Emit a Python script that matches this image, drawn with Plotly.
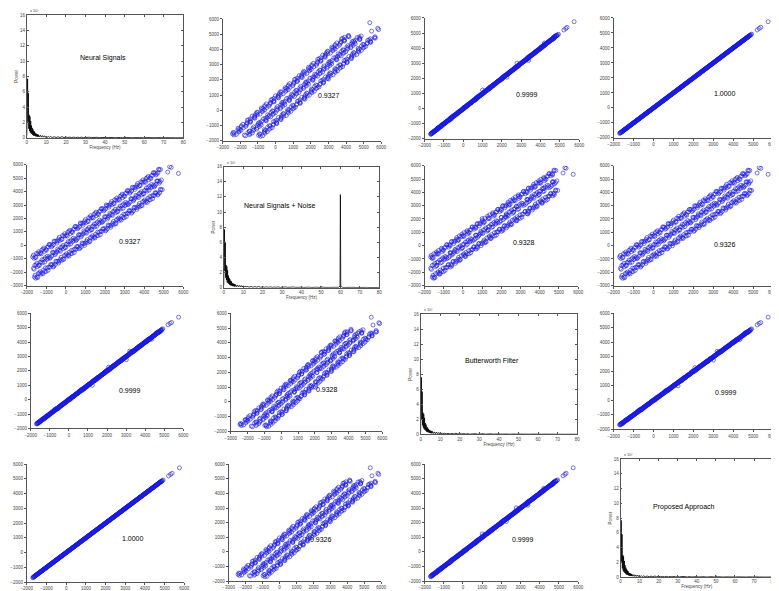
import plotly.graph_objects as go

# ---- spectra (power in units of 1e7) ----
freq = [0, 0.2, 0.4, 0.6, 0.8, 1.0, 1.2, 1.4, 1.6, 1.8, 2.0, 2.2, 2.4, 2.6, 2.8, 3.0,
        3.2, 3.4, 3.6, 3.8, 4.0, 4.2, 4.4, 4.6, 4.8, 5.0, 5.2, 5.4, 5.6, 5.8, 6.0,
        6.5, 7, 7.5, 8, 8.5, 9, 9.5, 10, 10.5, 11, 11.5, 12,
        13, 14, 15, 16, 17, 18, 19, 20, 21, 22, 23, 24, 25, 26, 27, 28, 29, 30, 31,
        32, 33, 34, 35, 36, 37, 38, 39, 40, 41, 42, 43, 44, 45, 46, 47, 48, 49,
        49.8, 50, 50.2,
        51, 52, 53, 54, 55, 56, 57, 58, 59,
        59.8, 60, 60.2,
        61, 62, 63, 64, 65, 66, 67, 68, 69, 70, 71, 72, 73, 74, 75, 76, 77, 78, 79, 80]

power_clean = [0.3, 4.5, 7.7, 2.1, 5.8, 1.2, 3.0, 0.9, 2.8, 0.7, 2.2, 0.6, 1.6, 0.5, 1.3, 0.4,
               1.1, 0.3, 0.9, 0.3, 0.8, 0.25, 0.6, 0.2, 0.55, 0.2, 0.5, 0.15, 0.45, 0.15, 0.4,
               0.12, 0.35, 0.1, 0.3, 0.1, 0.28, 0.08, 0.25, 0.08, 0.2, 0.07, 0.18,
               0.06, 0.15, 0.05, 0.14, 0.05, 0.16, 0.04, 0.12, 0.05, 0.1, 0.04, 0.11, 0.03, 0.09,
               0.04, 0.1, 0.03, 0.08, 0.03, 0.09, 0.03, 0.07, 0.02, 0.08, 0.03, 0.07, 0.02, 0.06,
               0.03, 0.07, 0.02, 0.06, 0.02, 0.05, 0.03, 0.06, 0.02,
               0.04, 0.22, 0.04,
               0.05, 0.02, 0.05, 0.02, 0.04, 0.02, 0.05, 0.02, 0.04,
               0.02, 0.05, 0.02,
               0.04, 0.02, 0.04, 0.02, 0.03, 0.02, 0.04, 0.01, 0.03, 0.02, 0.03, 0.01, 0.03, 0.02,
               0.03, 0.01, 0.02, 0.02, 0.03, 0.01]

power_noise = [0.3, 4.6, 7.7, 2.2, 5.9, 1.3, 3.0, 1.0, 2.8, 0.7, 2.3, 0.6, 1.6, 0.5, 1.3, 0.4,
               1.1, 0.3, 0.9, 0.3, 0.8, 0.25, 0.6, 0.2, 0.55, 0.2, 0.5, 0.15, 0.45, 0.15, 0.4,
               0.12, 0.35, 0.1, 0.3, 0.1, 0.28, 0.08, 0.25, 0.08, 0.2, 0.07, 0.18,
               0.06, 0.15, 0.05, 0.14, 0.05, 0.16, 0.04, 0.12, 0.05, 0.1, 0.04, 0.11, 0.03, 0.09,
               0.04, 0.1, 0.03, 0.08, 0.03, 0.09, 0.03, 0.07, 0.02, 0.08, 0.03, 0.07, 0.02, 0.06,
               0.03, 0.07, 0.02, 0.06, 0.02, 0.05, 0.03, 0.06, 0.02,
               0.04, 0.22, 0.04,
               0.05, 0.02, 0.05, 0.02, 0.04, 0.02, 0.05, 0.02, 0.04,
               0.2, 12.3, 0.2,
               0.04, 0.02, 0.04, 0.02, 0.03, 0.02, 0.04, 0.01, 0.03, 0.02, 0.03, 0.01, 0.03, 0.02,
               0.03, 0.01, 0.02, 0.02, 0.03, 0.01]

power_butter = [0.3, 4.4, 7.6, 2.0, 5.7, 1.2, 2.9, 0.9, 2.7, 0.7, 2.2, 0.6, 1.5, 0.5, 1.3, 0.4,
                1.0, 0.3, 0.9, 0.3, 0.7, 0.25, 0.6, 0.2, 0.5, 0.2, 0.5, 0.15, 0.4, 0.15, 0.4,
                0.12, 0.33, 0.1, 0.3, 0.1, 0.26, 0.08, 0.24, 0.08, 0.2, 0.07, 0.17,
                0.06, 0.14, 0.05, 0.13, 0.05, 0.15, 0.04, 0.11, 0.05, 0.1, 0.04, 0.1, 0.03, 0.08,
                0.04, 0.09, 0.03, 0.08, 0.03, 0.08, 0.03, 0.07, 0.02, 0.07, 0.03, 0.06, 0.02, 0.06,
                0.03, 0.06, 0.02, 0.05, 0.02, 0.05, 0.03, 0.05, 0.02,
                0.03, 0.18, 0.03,
                0.04, 0.02, 0.04, 0.02, 0.03, 0.02, 0.04, 0.02, 0.03,
                0.02, 0.04, 0.02,
                0.03, 0.02, 0.03, 0.02, 0.03, 0.01, 0.03, 0.01, 0.02, 0.02, 0.03, 0.01, 0.02, 0.01,
                0.02, 0.01, 0.02, 0.01, 0.02, 0.01]

power_proposed = [0.3, 4.5, 7.7, 2.1, 5.8, 1.2, 3.0, 0.9, 2.8, 0.7, 2.2, 0.6, 1.6, 0.5, 1.3, 0.4,
                  1.1, 0.3, 0.9, 0.3, 0.8, 0.25, 0.6, 0.2, 0.55, 0.2, 0.5, 0.15, 0.45, 0.15, 0.4,
                  0.12, 0.35, 0.1, 0.3, 0.1, 0.28, 0.08, 0.25, 0.08, 0.2, 0.07, 0.18,
                  0.06, 0.15, 0.05, 0.14, 0.05, 0.16, 0.04, 0.12, 0.05, 0.1, 0.04, 0.11, 0.03, 0.09,
                  0.04, 0.1, 0.03, 0.08, 0.03, 0.09, 0.03, 0.07, 0.02, 0.08, 0.03, 0.07, 0.02, 0.06,
                  0.03, 0.07, 0.02, 0.06, 0.02, 0.05, 0.03, 0.06, 0.02,
                  0.04, 0.21, 0.04,
                  0.05, 0.02, 0.05, 0.02, 0.04, 0.02, 0.05, 0.02, 0.04,
                  0.02, 0.06, 0.02,
                  0.04, 0.02, 0.04, 0.02, 0.03, 0.02, 0.04, 0.01, 0.03, 0.02, 0.03, 0.01, 0.03, 0.02,
                  0.03, 0.01, 0.02, 0.02, 0.03, 0.01]

# ---- time-domain samples of the four signals ----
sig_clean = [-1700, -1570, -1430, -1300, -1170, -1030, -900, -770, -640, -500, -370, -240, -100, 30, 160, 300, 430, 560, 700, 830,
             960, 1100, 1230, 1360, 1500, 1630, 1760, 1900, 2030, 2160, 2300, 2430, 2560, 2700, 2830, 2960, 3100, 3230, 3360, 3500,
             3630, 3760, 3900, 4030, 4160, 4300, 4430, 4560, 4700, 4830,
             -1660, -1520, -1390, -1260, -1120, -990, -860, -720, -590, -460, -320, -190, -60, 80, 210, 340, 480, 610, 740, 880,
             1010, 1140, 1280, 1410, 1540, 1680, 1810, 1940, 2080, 2210, 2340, 2480, 2610, 2740, 2880, 3010, 3140, 3280, 3410, 3540,
             3680, 3810, 3940, 4080, 4210, 4340, 4480, 4610, 4740, 4880,
             -1610, -1480, -1350, -1210, -1080, -950, -810, -680, -550, -410, -280, -150, -10, 120, 250, 390, 520, 650, 790, 920,
             1050, 1190, 1320, 1450, 1590, 1720, 1850, 1990, 2120, 2250, 2390, 2520, 2650, 2790, 2920, 3050, 3190, 3320, 3450, 3590,
             3720, 3850, 3990, 4120, 4250, 4390, 4520, 4650, 4790, 4920,
             5200, 5300, 5380, 5750,
             -1635, -1500, -1365, -1235, -1100, -965, -835, -705, -570, -435, -305, -170, -35, 95, 230, 365, 495, 630, 765, 895,
             1030, 1165, 1295, 1430, 1565, 1695, 1830, 1965, 2095, 2230, 2365, 2495, 2630, 2765, 2895, 3030, 3165, 3295, 3430, 3565,
             3695, 3830, 3965, 4095, 4230, 4365, 4495, 4630, 4765,
             -1590, -1455, -1325, -1190, -1055, -925, -790, -655, -525, -390, -255, -125, 10, 145, 275, 410, 545, 675, 810, 945,
             1075, 1210, 1345, 1475, 1610, 1745, 1875, 2010, 2145, 2275, 2410, 2545, 2675, 2810, 2945, 3075, 3210, 3345, 3475, 3610,
             3745, 3875, 4010, 4145, 4275, 4410, 4545, 4675, 4810,
             -1545, -1415, -1280, -1145, -1015, -880, -745, -615, -480, -345, -215, -80, 55, 185, 320, 455, 585, 720, 855, 985,
             1120, 1255, 1385, 1520, 1655, 1785, 1920, 2055, 2185, 2320, 2455, 2585, 2720, 2855, 2985, 3120, 3255, 3385, 3520, 3655,
             3785, 3920, 4055, 4185, 4320, 4455, 4585, 4720, 4855,
             -1665, -1535, -1395, -1265, -1135, -995, -865, -735, -605, -465, -335, -205, -65, 65, 195, 335, 465, 595, 735, 865,
             995, 1135, 1265, 1395, 1535, 1665, 1795, 1935, 2065, 2195, 2335, 2465, 2595, 2735, 2865, 2995, 3135, 3265, 3395, 3535,
             3665, 3795, 3935, 4065, 4195, 4335, 4465, 4595, 4735,
             -1625, -1485, -1355, -1225, -1085, -955, -825, -685, -555, -425, -285, -155, -25, 115, 245, 375, 515, 645, 775, 915,
             1045, 1175, 1315, 1445, 1575, 1715, 1845, 1975, 2115, 2245, 2375, 2515, 2645, 2775, 2915, 3045, 3175, 3315, 3445, 3575,
             3715, 3845, 3975, 4115, 4245, 4375, 4515, 4645, 4775,
             -1575, -1445, -1315, -1175, -1045, -915, -775, -645, -515, -375, -245, -115, 25, 155, 285, 425, 555, 685, 825, 955,
             1085, 1225, 1355, 1485, 1625, 1755, 1885, 2025, 2155, 2285, 2425, 2555, 2685, 2825, 2955, 3085, 3225, 3355, 3485, 3625,
             3755, 3885, 4025, 4155, 4285, 4425, 4555, 4685, 4825]

sig_noise = [-860, -870, -630, -560, -300, -310, -120, 60, 50, 310, 470, 460, 700, 770, 1030, 1020, 1210, 1390, 1390, 1640,
             1800, 1800, 2030, 2100, 2370, 2350, 2540, 2730, 2720, 2970, 3140, 3130, 3360, 3440, 3700, 3680, 3880, 4060, 4050, 4310,
             4470, 4460, 4700, 4770, 5030, 5020, 5210, 5390, 5390, 5640,
             -1700, -1450, -1480, -1230, -1040, -1050, -850, -790, -540, -480, -360, -120, -150, 110, 290, 280, 490, 540, 790, 860,
             970, 1210, 1190, 1440, 1620, 1620, 1820, 1870, 2130, 2190, 2300, 2550, 2520, 2770, 2960, 2950, 3150, 3210, 3460, 3520,
             3640, 3880, 3850, 4110, 4290, 4280, 4490, 4540, 4790, 4860,
             -2360, -2350, -2060, -2040, -1940, -1670, -1620, -1420, -1430, -1190, -1030, -1020, -720, -710, -610, -330, -290, -90, -90, 140,
             300, 320, 610, 620, 730, 1000, 1040, 1250, 1240, 1470, 1640, 1650, 1940, 1960, 2060, 2330, 2380, 2580, 2570, 2810,
             2970, 2980, 3280, 3290, 3390, 3670, 3710, 3910, 3910, 4140,
             5450, 5850, 5800, 5350,
             -965, -600, -635, -355, -450, -145, 55, -25, 280, 325, 365, 730, 695, 975, 880, 1185, 1385, 1310, 1615, 1655,
             1700, 2065, 2025, 2310, 2215, 2515, 2720, 2645, 2945, 2990, 3035, 3395, 3360, 3645, 3545, 3850, 4055, 3975, 4280, 4325,
             4365, 4730, 4695, 4975, 4880, 5185, 5385, 5310, 5615,
             -1480, -1575, -1265, -1290, -925, -965, -900, -555, -595, -370, -145, -245, 70, 45, 405, 370, 435, 775, 740, 965,
             1185, 1090, 1405, 1375, 1740, 1705, 1765, 2110, 2075, 2295, 2520, 2425, 2735, 2710, 3075, 3035, 3100, 3445, 3405, 3630,
             3855, 3755, 4070, 4045, 4405, 4370, 4435, 4775, 4740,
             -2445, -2095, -2140, -1835, -1945, -1630, -1445, -1525, -1210, -1175, -1115, -760, -805, -505, -610, -295, -115, -190, 125, 155,
             220, 575, 525, 830, 725, 1035, 1220, 1145, 1455, 1490, 1555, 1905, 1860, 2165, 2055, 2370, 2555, 2475, 2790, 2825,
             2885, 3240, 3195, 3495, 3390, 3705, 3885, 3810, 4125,
             -735, -915, -475, -635, -195, -355, 65, -115, 315, 165, 605, 435, 865, 685, 1115, 965, 1405, 1235, 1665, 1485,
             1915, 1765, 2205, 2035, 2465, 2285, 2715, 2565, 3005, 2835, 3265, 3085, 3515, 3365, 3805, 3635, 4065, 3885, 4315, 4165,
             4605, 4435, 4865, 4685, 5115, 4965, 5405, 5235, 5665,
             -1775, -1325, -1495, -1075, -1245, -815, -975, -525, -695, -275, -445, -15, -175, 275, 105, 525, 355, 785, 625, 1075,
             905, 1325, 1155, 1585, 1425, 1875, 1705, 2125, 1955, 2385, 2225, 2675, 2505, 2925, 2755, 3185, 3025, 3475, 3305, 3725,
             3555, 3985, 3825, 4275, 4105, 4525, 4355, 4785, 4625,
             -2225, -2405, -1975, -2125, -1685, -1855, -1425, -1605, -1175, -1325, -885, -1055, -625, -805, -375, -525, -85, -255, 175, -5,
             425, 275, 715, 545, 975, 795, 1225, 1075, 1515, 1345, 1775, 1595, 2025, 1875, 2315, 2145, 2575, 2395, 2825, 2675,
             3115, 2945, 3375, 3195, 3625, 3475, 3915, 3745, 4175]

sig_butter = [-1680, -1600, -1420, -1310, -1130, -1050, -900, -740, -680, -490, -350, -270, -90, 20, 200, 280, 430, 590, 660, 840,
              980, 1070, 1000, 1350, 1540, 1610, 1760, 1930, 1990, 2170, 2320, 2400, 2570, 2690, 2870, 2940, 3100, 3260, 3320, 3510,
              3650, 3730, 3910, 4020, 4200, 4280, 4430, 4590, 4660, 4840,
              -1680, -1510, -1360, -1290, -1120, -970, -870, -680, -610, -450, -340, -180, -30, 50, 210, 360, 470, 650, 720, 890,
              990, 1150, 1310, 1380, 1540, 1700, 1800, 1980, 2260, 2220, 2320, 2490, 2640, 2710, 2880, 2780, 3130, 3320, 3390, 3550,
              3660, 3820, 3970, 4050, 4210, 4200, 4470, 4650, 4720, 4890,
              -1600, -1500, -1320, -1210, -1110, -930, -820, -640, -590, -400, -270, -170, 20, 120, 220, 410, 510, 690, 750, 930,
              1060, 1170, 1350, 1450, 1560, 1740, 1840, 2030, 2080, 2260, 2400, 2500, 2680, 2790, 2890, 3070, 3380, 3360, 3410, 3600,
              3730, 3830, 4020, 4120, 4220, 4410, 4510, 4690, 4750, 4930,
              5210, 5310, 5370, 5740,
              -1605, -1520, -1355, -1275, -1080, -965, -845, -665, -600, -425, -275, -190, -25, 55, 250, 365, 485, 670, 735, 905,
              1060, 1145, 1305, 1390, 1585, 1695, 1820, 2005, 2065, 2240, 2395, 2475, 2640, 2725, 2915, 3030, 3155, 3335, 3400, 3575,
              3725, 3810, 3975, 4055, 4250, 4365, 4485, 4670, 4735,
              -1600, -1425, -1355, -1170, -1055, -945, -750, -665, -515, -420, -265, -95, -20, 165, 275, 390, 585, 665, 820, 915,
              1065, 1240, 1315, 1495, 1610, 1725, 1915, 2000, 2155, 2245, 2400, 2575, 2645, 2830, 2945, 3055, 3250, 3335, 3485, 3580,
              3735, 3905, 3980, 4165, 4275, 4390, 4585, 4665, 4820,
              -1525, -1425, -1240, -1175, -1015, -870, -765, -585, -520, -325, -195, -90, 95, 155, 320, 465, 565, 750, 815, 1005,
              1140, 1245, 1425, 1490, 1655, 1795, 1900, 2085, 2145, 2340, 2475, 2575, 2760, 2825, 2985, 3130, 3235, 3415, 3480, 3675,
              3805, 3910, 4095, 4155, 4320, 4465, 4565, 4750, 4815,
              -1650, -1550, -1380, -1280, -1120, -1010, -850, -750, -590, -480, -320, -220, -50, 50, 210, 320, 480, 580, 750, 850,
              1010, 1120, 1280, 1380, 1550, 1650, 1810, 1920, 2080, 2180, 2350, 2450, 2610, 2720, 2880, 2980, 3150, 3250, 3410, 3520,
              3680, 3780, 3950, 4050, 4210, 4320, 4480, 4580, 4750,
              -1640, -1470, -1370, -1210, -1100, -940, -840, -670, -570, -410, -300, -140, -40, 130, 230, 390, 500, 660, 760, 930,
              1030, 1190, 1300, 1460, 1560, 1730, 1830, 1990, 2100, 2260, 2360, 2530, 2630, 2790, 2900, 3060, 3160, 3330, 3430, 3590,
              3700, 3860, 3960, 4130, 4230, 4390, 4500, 4660, 4760,
              -1560, -1460, -1300, -1190, -1030, -930, -760, -660, -500, -390, -230, -130, 40, 140, 300, 410, 570, 670, 840, 940,
              1100, 1210, 1370, 1470, 1640, 1740, 1900, 2010, 2170, 2270, 2440, 2540, 2700, 2810, 2970, 3070, 3240, 3340, 3500, 3610,
              3770, 3870, 4040, 4140, 4300, 4410, 4570, 4670, 4840]

sig_proposed = [-1700, -1560, -1430, -1300, -1170, -1040, -900, -770, -640, -500, -370, -240, -100, 30, 160, 300, 430, 560, 700, 830,
                960, 1100, 1230, 1370, 1500, 1630, 1760, 1900, 2030, 2160, 2300, 2430, 2560, 2700, 2830, 2960, 3100, 3230, 3360, 3500,
                3620, 3760, 3900, 4030, 4160, 4300, 4430, 4560, 4700, 4830,
                -1660, -1520, -1390, -1260, -1120, -990, -860, -720, -590, -460, -320, -190, -60, 80, 210, 340, 480, 610, 740, 880,
                1010, 1140, 1280, 1410, 1540, 1680, 1810, 1950, 2080, 2210, 2340, 2480, 2610, 2740, 2880, 3010, 3140, 3280, 3410, 3540,
                3680, 3810, 3940, 4080, 4210, 4340, 4480, 4610, 4740, 4880,
                -1610, -1480, -1350, -1210, -1080, -950, -810, -680, -550, -410, -280, -150, -10, 120, 250, 390, 520, 650, 790, 920,
                1050, 1190, 1320, 1450, 1590, 1720, 1850, 1990, 2120, 2250, 2390, 2520, 2650, 2790, 2920, 3050, 3190, 3320, 3450, 3590,
                3720, 3850, 3990, 4120, 4250, 4390, 4520, 4650, 4790, 4920,
                5200, 5300, 5380, 5750,
                -1635, -1500, -1365, -1235, -1100, -965, -835, -705, -570, -435, -305, -170, -35, 95, 230, 365, 495, 630, 765, 895,
                1030, 1165, 1295, 1430, 1565, 1695, 1830, 1965, 2095, 2230, 2365, 2495, 2630, 2765, 2895, 3030, 3165, 3295, 3430, 3565,
                3695, 3830, 3965, 4095, 4230, 4365, 4495, 4630, 4765,
                -1590, -1455, -1325, -1190, -1055, -925, -790, -655, -525, -390, -255, -125, 10, 145, 275, 410, 545, 675, 810, 945,
                1075, 1210, 1345, 1475, 1610, 1745, 1875, 2010, 2145, 2275, 2410, 2545, 2675, 2810, 2945, 3075, 3210, 3345, 3475, 3610,
                3745, 3875, 4010, 4145, 4275, 4410, 4545, 4675, 4810,
                -1545, -1415, -1280, -1145, -1015, -880, -745, -615, -480, -345, -215, -80, 55, 185, 320, 455, 585, 720, 855, 985,
                1120, 1255, 1385, 1520, 1655, 1785, 1920, 2055, 2185, 2320, 2455, 2585, 2720, 2855, 2985, 3120, 3255, 3385, 3520, 3655,
                3785, 3920, 4055, 4185, 4320, 4455, 4585, 4720, 4855,
                -1665, -1535, -1395, -1265, -1135, -995, -865, -735, -605, -465, -335, -205, -65, 65, 195, 335, 465, 595, 735, 865,
                995, 1135, 1265, 1395, 1535, 1665, 1795, 1935, 2065, 2195, 2335, 2465, 2595, 2735, 2865, 2995, 3135, 3265, 3395, 3535,
                3665, 3795, 3935, 4065, 4195, 4335, 4465, 4595, 4735,
                -1625, -1485, -1355, -1225, -1085, -955, -825, -685, -555, -425, -285, -155, -25, 115, 245, 375, 515, 645, 775, 915,
                1045, 1175, 1315, 1445, 1575, 1715, 1845, 1975, 2115, 2245, 2375, 2515, 2645, 2775, 2915, 3045, 3175, 3315, 3445, 3575,
                3715, 3845, 3975, 4115, 4245, 4375, 4515, 4645, 4775,
                -1575, -1445, -1315, -1175, -1045, -915, -775, -645, -515, -375, -245, -115, 25, 155, 285, 425, 555, 685, 825, 955,
                1085, 1225, 1355, 1485, 1625, 1755, 1885, 2025, 2155, 2285, 2425, 2555, 2685, 2825, 2955, 3085, 3225, 3355, 3485, 3625,
                3755, 3885, 4025, 4155, 4285, 4425, 4555, 4685, 4825]

spec_titles = ["Neural Signals", "Neural Signals + Noise", "Butterworth Filter", "Proposed Approach"]
corr_labels = [["", "0.9327", "0.9999", "1.0000"],
               ["0.9327", "", "0.9328", "0.9326"],
               ["0.9999", "0.9328", "", "0.9999"],
               ["1.0000", "0.9326", "0.9999", ""]]
sig_ranges = [[-2000, 6000], [-3000, 6000], [-2000, 6000], [-2000, 6000]]

signals = [sig_clean, sig_noise, sig_butter, sig_proposed]
spectra = [power_clean, power_noise, power_butter, power_proposed]

# ---- layout: axes boxes in pixels (x0, x1, y0, y1) and label centres ----
W, H = 779, 591
boxes = {
    (0, 0): (13, 172, 5, 129), (0, 1): (212, 373, 9, 132), (0, 2): (417, 574, 8, 130), (0, 3): (609, 771, 8, 129),
    (1, 0): (13, 172, 156, 278), (1, 1): (213, 371, 158, 280), (1, 2): (417, 573, 157, 278), (1, 3): (609, 771, 157, 278),
    (2, 0): (17, 172, 306, 422), (2, 1): (220, 374, 306, 425), (2, 2): (413, 572, 307, 428), (2, 3): (609, 771, 306, 423),
    (3, 0): (13, 173, 458, 577), (3, 1): (218, 373, 458, 576), (3, 2): (417, 573, 458, 576), (3, 3): (616, 771, 453, 572),
}
label_pos = {
    (0, 0): (90, 48), (0, 1): (320, 86), (0, 2): (521, 85), (0, 3): (722, 84),
    (1, 0): (118, 233), (1, 1): (270, 198), (1, 2): (518, 234), (1, 3): (722, 236),
    (2, 0): (118, 384), (2, 1): (318, 383), (2, 2): (485, 353), (2, 3): (723, 386),
    (3, 0): (121, 533), (3, 1): (312, 534), (3, 2): (517, 534), (3, 3): (680, 501),
}

FONT = "Liberation Sans, Arial, sans-serif"
tickfont = dict(family=FONT, size=4.5, color="#444")

fig = go.Figure()
layout = {}
annotations = []

for i in range(4):
    for j in range(4):
        n = i * 4 + j + 1
        sfx = "" if n == 1 else str(n)
        x0, x1, y0, y1 = boxes[(i, j)]
        xdom = [x0 / W, x1 / W]
        ydom = [1 - y1 / H, 1 - y0 / H]
        if i == j:
            fig.add_trace(go.Scatter(x=freq, y=spectra[i], mode="lines",
                                     line=dict(color="black", width=0.8),
                                     xaxis="x" + sfx, yaxis="y" + sfx, showlegend=False))
            common = dict(showline=True, linecolor="#555", linewidth=0.8, mirror="ticks",
                          ticks="inside", ticklen=2, tickcolor="#555", tickfont=tickfont,
                          showgrid=False, zeroline=False, tickangle=0)
            layout["xaxis" + sfx] = dict(domain=xdom, anchor="y" + sfx, range=[0, 80], dtick=10,
                                         title=dict(text="Frequency (Hz)", font=tickfont, standoff=0),
                                         **common)
            layout["yaxis" + sfx] = dict(domain=ydom, anchor="x" + sfx, range=[0, 16], dtick=2,
                                         title=dict(text="Power", font=tickfont, standoff=1),
                                         **common)
            annotations.append(dict(x=x0 / W + 0.002, y=1 - y0 / H, xref="paper", yref="paper",
                                    text="x 10⁷", showarrow=False,
                                    xanchor="left", yanchor="bottom",
                                    font=dict(family=FONT, size=4, color="#444")))
            text = spec_titles[i]
        else:
            fig.add_trace(go.Scatter(x=signals[j], y=signals[i], mode="markers",
                                     marker=dict(symbol="circle-open", size=4, color="#1a1ae6",
                                                 line=dict(width=0.6, color="#1a1ae6")),
                                     xaxis="x" + sfx, yaxis="y" + sfx, showlegend=False))
            common = dict(showline=True, linecolor="#555", linewidth=0.8, mirror=False,
                          ticks="outside", ticklen=2, tickcolor="#555", tickfont=tickfont,
                          showgrid=False, zeroline=False, dtick=1000, tickangle=0)
            layout["xaxis" + sfx] = dict(domain=xdom, anchor="y" + sfx, range=sig_ranges[j], **common)
            layout["yaxis" + sfx] = dict(domain=ydom, anchor="x" + sfx, range=sig_ranges[i], **common)
            text = corr_labels[i][j]
        cx, cy = label_pos[(i, j)]
        annotations.append(dict(x=cx / W, y=1 - cy / H, xref="paper", yref="paper", text=text,
                                showarrow=False, xanchor="center", yanchor="middle",
                                font=dict(family=FONT, size=7, color="black")))

fig.update_layout(**layout)
fig.update_layout(
    width=W, height=H, autosize=False,
    margin=dict(l=0, r=0, t=0, b=0),
    paper_bgcolor="white", plot_bgcolor="white",
    annotations=annotations,
)

fig.write_html("out.html")
